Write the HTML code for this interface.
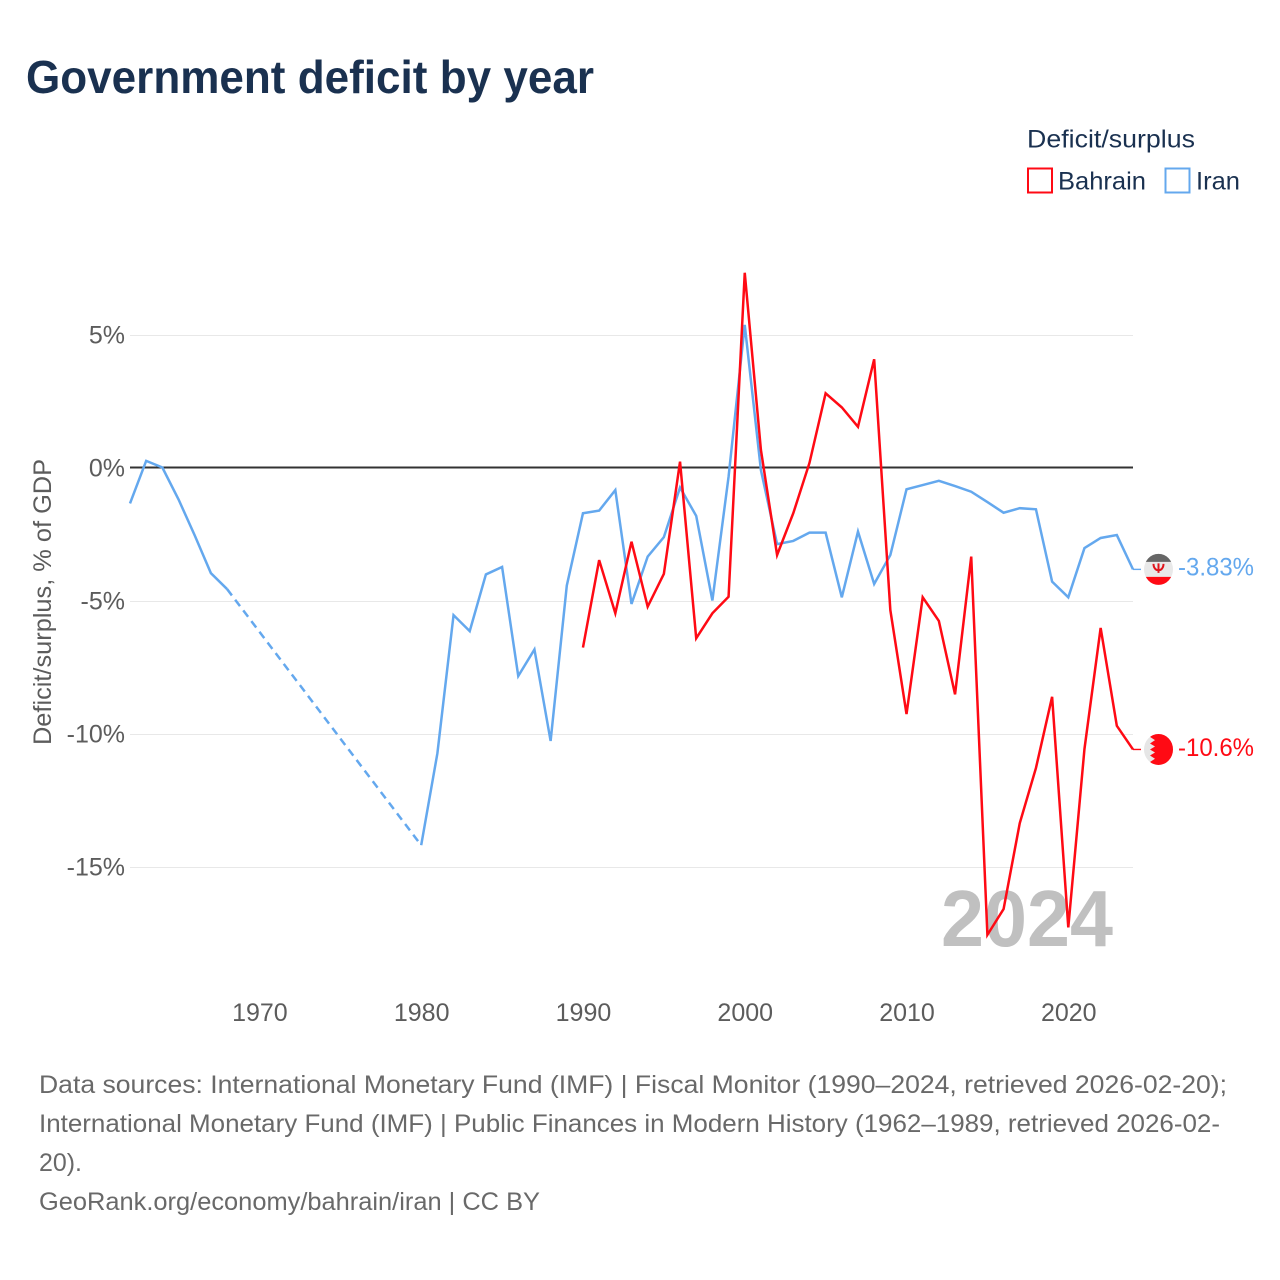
<!DOCTYPE html>
<html lang="en">
<head>
<meta charset="utf-8">
<title>Government deficit by year</title>
<style>
  html, body { margin: 0; padding: 0; background: #fff; }
  svg { display: block; font-family: "Liberation Sans", sans-serif; }
</style>
</head>
<body>
<svg id="chart" xmlns="http://www.w3.org/2000/svg" width="1280" height="1280" viewBox="0 0 1280 1280">
  <rect width="1280" height="1280" fill="#ffffff"/>
  <text x="26" y="93" font-size="46" font-weight="700" fill="#1a3150" textLength="568" lengthAdjust="spacingAndGlyphs">Government deficit by year</text>

  <g>
    <text x="1027" y="147.5" font-size="25" fill="#1a3150" textLength="168" lengthAdjust="spacingAndGlyphs">Deficit/surplus</text>
    <g>
      <rect x="1028" y="168.5" width="24" height="24" fill="none" stroke="#ff0a14" stroke-width="2"/>
      <text x="1058" y="189.5" font-size="25" fill="#1a3150" textLength="88" lengthAdjust="spacingAndGlyphs">Bahrain</text>
    </g>
    <g>
      <rect x="1165.5" y="168.5" width="24" height="24" fill="none" stroke="#64a8ee" stroke-width="2"/>
      <text x="1196" y="189.5" font-size="25" fill="#1a3150" textLength="44" lengthAdjust="spacingAndGlyphs">Iran</text>
    </g>
  </g>

  <text transform="translate(51,745) rotate(-90)" font-size="25" fill="#5c5c5c" textLength="286" lengthAdjust="spacingAndGlyphs">Deficit/surplus, % of GDP</text>

  <g id="grid"></g>
  <g id="yticks"></g>
  <g id="xticks"></g>
  <text id="yearStamp" x="941" y="946" font-size="80" font-weight="700" fill="#c0c0c0" textLength="172" lengthAdjust="spacingAndGlyphs"></text>
  <g id="series"></g>
  <g id="ends"></g>

  <g font-size="25" fill="#696969">
    <text x="39" y="1093" textLength="1188" lengthAdjust="spacingAndGlyphs">Data sources: International Monetary Fund (IMF) | Fiscal Monitor (1990–2024, retrieved 2026-02-20);</text>
    <text x="39" y="1132" textLength="1181" lengthAdjust="spacingAndGlyphs">International Monetary Fund (IMF) | Public Finances in Modern History (1962–1989, retrieved 2026-02-</text>
    <text x="39" y="1171" textLength="43" lengthAdjust="spacingAndGlyphs">20).</text>
    <text x="39" y="1210" textLength="501" lengthAdjust="spacingAndGlyphs">GeoRank.org/economy/bahrain/iran | CC BY</text>
  </g>
</svg>

<script>
const yTickValues = [5, 0, -5, -10, -15];
const yTickLabels = ["5%", "0%", "-5%", "-10%", "-15%"];
const xTickValues = [1970, 1980, 1990, 2000, 2010, 2020];
const xTickLabels = ["1970", "1980", "1990", "2000", "2010", "2020"];
const firstYear = 1962;
const lastYear = 2024;

const iranYears = [1962,1963,1964,1965,1966,1967,1968,1980,1981,1982,1983,1984,1985,1986,1987,1988,1989,1990,1991,1992,1993,1994,1995,1996,1997,1998,1999,2000,2001,2002,2003,2004,2005,2006,2007,2008,2009,2010,2011,2012,2013,2014,2015,2016,2017,2018,2019,2020,2021,2022,2023,2024];
const iranValues = [-1.35,0.25,0.0,-1.2,-2.55,-3.97,-4.57,-14.2,-10.75,-5.55,-6.15,-4.02,-3.74,-7.84,-6.84,-10.28,-4.44,-1.72,-1.62,-0.85,-5.13,-3.35,-2.62,-0.75,-1.82,-5.0,-0.35,5.36,-0.1,-2.88,-2.76,-2.45,-2.45,-4.88,-2.41,-4.38,-3.29,-0.82,-0.66,-0.5,-0.7,-0.91,-1.3,-1.7,-1.53,-1.57,-4.29,-4.88,-3.03,-2.65,-2.54,-3.83];
const bahrainYears = [1990,1991,1992,1993,1994,1995,1996,1997,1998,1999,2000,2001,2002,2003,2004,2005,2006,2007,2008,2009,2010,2011,2012,2013,2014,2015,2016,2017,2018,2019,2020,2021,2022,2023,2024];
const bahrainValues = [-6.77,-3.48,-5.48,-2.79,-5.23,-4.0,0.22,-6.42,-5.48,-4.86,7.32,0.66,-3.29,-1.72,0.17,2.79,2.26,1.53,4.07,-5.36,-9.27,-4.88,-5.77,-8.53,-3.35,-17.57,-16.6,-13.37,-11.3,-8.62,-17.29,-10.58,-6.03,-9.71,-10.6];
const iranLatestLabel = "-3.83%";
const bahrainLatestLabel = "-10.6%";

const RED = "#ff0a14";
const BLUE = "#64a8ee";
const NS = "http://www.w3.org/2000/svg";
const plotLeft = 130, plotRight = 1133;
const xScale = yr => plotLeft + (yr - firstYear) * (plotRight - plotLeft) / (lastYear - firstYear);
const yScale = v => 467.5 - v * 26.6;
const gridY = v => v === 0 ? yScale(0) : Math.round(yScale(v) + 0.5) + 0.5;

function mk(tag, attrs, parent) {
  const el = document.createElementNS(NS, tag);
  for (const k in attrs) el.setAttribute(k, attrs[k]);
  parent.appendChild(el);
  return el;
}

const grid = document.getElementById("grid");
const yticks = document.getElementById("yticks");
const xticks = document.getElementById("xticks");
const series = document.getElementById("series");
const ends = document.getElementById("ends");
document.getElementById("yearStamp").textContent = String(lastYear);

yTickValues.forEach((v, i) => {
  const isZero = v === 0;
  const line = mk("line", { x1: plotLeft, x2: plotRight, y1: gridY(v), y2: gridY(v), stroke: isZero ? "#333333" : "#e8e8e8", "stroke-width": isZero ? 2 : 1 }, grid);
  
  
  const t = mk("text", { x: 125, y: yScale(v) + 9, "text-anchor": "end", "font-size": 25, fill: "#5c5c5c" }, yticks);
  t.textContent = yTickLabels[i];
  
  
});

xTickValues.forEach((yr, i) => {
  const t = mk("text", { x: xScale(yr) + 0.5, y: 1021, "text-anchor": "middle", "font-size": 25, fill: "#5c5c5c" }, xticks);
  t.textContent = xTickLabels[i];
  
  
});

function drawSeries(years, values, color, groupName) {
  const g = mk("g", {}, series);
  
  
  let run = [];
  const flush = () => {
    if (run.length > 1) {
      const p = mk("polyline", { points: run.map(q => q.join(",")).join(" "), fill: "none", stroke: color, "stroke-width": 2.5, "stroke-linejoin": "miter", "stroke-miterlimit": 4 }, g);
      
      
    }
    run = [];
  };
  years.forEach((yr, i) => {
    const pt = [xScale(yr), yScale(values[i])];
    if (i > 0 && yr - years[i - 1] > 1) {
      flush();
      const prev = [xScale(years[i - 1]), yScale(values[i - 1])];
      const d = mk("line", { x1: prev[0], y1: prev[1], x2: pt[0], y2: pt[1], stroke: color, "stroke-width": 2.5, "stroke-dasharray": "8 5.4" }, g);
      
      
    }
    run.push(pt);
  });
  flush();
}

drawSeries(iranYears, iranValues, BLUE, "series-iran");
drawSeries(bahrainYears, bahrainValues, RED, "series-bahrain");

function clipFor(id, parent) {
  const c = mk("clipPath", { id: id }, parent);
  mk("ellipse", { cx: 0, cy: 0, rx: 14.5, ry: 15.5 }, c);
  return "url(#" + id + ")";
}

function drawEnd(lastValue, color, label, kind) {
  const y = yScale(lastValue);
  const conn = mk("line", { x1: plotRight, x2: 1141, y1: y, y2: y, stroke: color, "stroke-width": 1.4 }, ends);
  
  
  const flag = mk("g", { transform: "translate(1158.5," + y + ")" }, ends);
  
  
  const clip = clipFor("clip-" + kind, flag);
  const inner = mk("g", { "clip-path": clip }, flag);
  if (kind === "iran") {
    mk("rect", { x: -15, y: -16, width: 30, height: 32, fill: "#e9e9e9" }, inner);
    mk("rect", { x: -15, y: -16, width: 30, height: 8.5, fill: "#666666" }, inner);
    mk("rect", { x: -15, y: 7.5, width: 30, height: 8.5, fill: RED }, inner);
    mk("path", { d: "M-5,-5.5 C-5,3 5,3 5,-5.5 M0,-6 V3.5", fill: "none", stroke: "#e0141c", "stroke-width": 2 }, inner);
  } else {
    mk("rect", { x: -15, y: -16, width: 30, height: 32, fill: "#e6e6e6" }, inner);
    mk("polygon", { points: "-5,-16 -8.5,-12.6 -3.5,-9.3 -8.5,-6 -3.5,-3 -8.5,0 -3.5,3 -8.5,6 -3.5,9.3 -8.5,12.6 -5,16 15,16 15,-16", fill: RED }, inner);
  }
  const t = mk("text", { x: 1178, y: y + 6.3, "font-size": 25, fill: color, textLength: 76, lengthAdjust: "spacingAndGlyphs" }, ends);
  t.textContent = label;
  
  
}

drawEnd(iranValues[iranValues.length - 1], BLUE, iranLatestLabel, "iran");
drawEnd(bahrainValues[bahrainValues.length - 1], RED, bahrainLatestLabel, "bahrain");
</script>
</body>
</html>
